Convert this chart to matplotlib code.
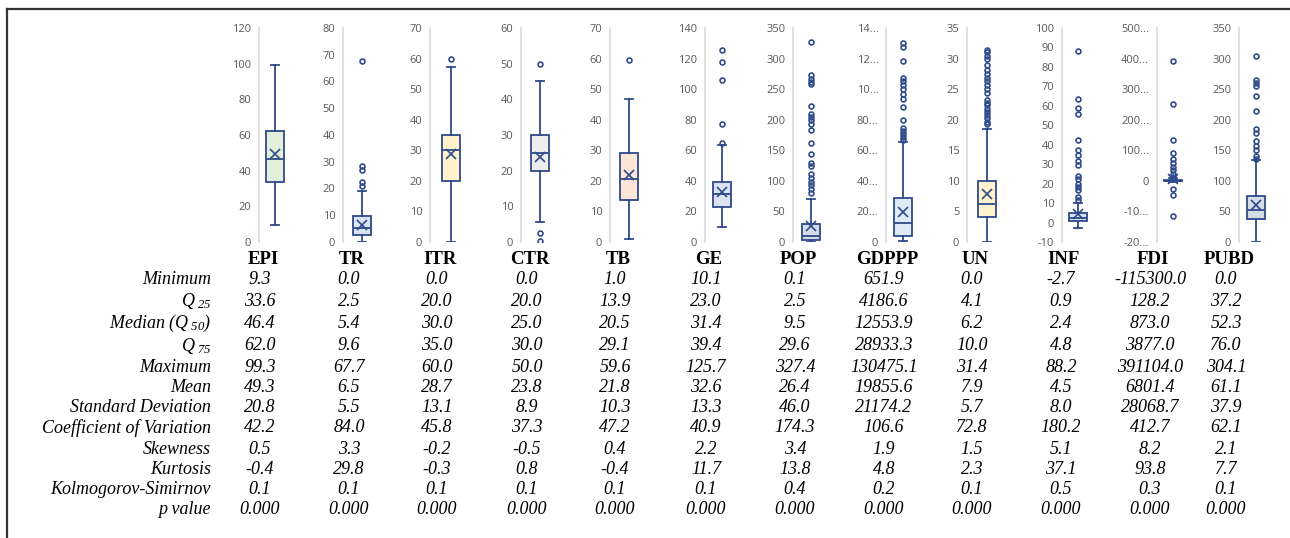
import matplotlib
matplotlib.use('Agg')
import matplotlib.pyplot as plt
from matplotlib.lines import Line2D

# Data
names = ['EPI', 'TR', 'ITR', 'CTR', 'TB', 'GE', 'POP', 'GDPPP', 'UN', 'INF', 'FDI', 'PUBD']

minimum = [9.3, 0.0, 0.0, 0.0, 1.0, 10.1, 0.1, 651.9, 0.0, -2.7, -115300.0, 0.0]
q25 = [33.6, 2.5, 20.0, 20.0, 13.9, 23.0, 2.5, 4186.6, 4.1, 0.9, 128.2, 37.2]
median = [46.4, 5.4, 30.0, 25.0, 20.5, 31.4, 9.5, 12553.9, 6.2, 2.4, 873.0, 52.3]
q75 = [62.0, 9.6, 35.0, 30.0, 29.1, 39.4, 29.6, 28933.3, 10.0, 4.8, 3877.0, 76.0]
maximum = [99.3, 67.7, 60.0, 50.0, 59.6, 125.7, 327.4, 130475.1, 31.4, 88.2, 391104.0, 304.1]
mean = [49.3, 6.5, 28.7, 23.8, 21.8, 32.6, 26.4, 19855.6, 7.9, 4.5, 6801.4, 61.1]
std_dev = [20.8, 5.5, 13.1, 8.9, 10.3, 13.3, 46.0, 21174.2, 5.7, 8.0, 28068.7, 37.9]
coef_var = [42.2, 84.0, 45.8, 37.3, 47.2, 40.9, 174.3, 106.6, 72.8, 180.2, 412.7, 62.1]
skewness = [0.5, 3.3, -0.2, -0.5, 0.4, 2.2, 3.4, 1.9, 1.5, 5.1, 8.2, 2.1]
kurtosis = [-0.4, 29.8, -0.3, 0.8, -0.4, 11.7, 13.8, 4.8, 2.3, 37.1, 93.8, 7.7]
ks_stat = [0.1, 0.1, 0.1, 0.1, 0.1, 0.1, 0.4, 0.2, 0.1, 0.5, 0.3, 0.1]
p_value = [0.000] * 12

# whisker ends as drawn in the box plots
whisker_low = [9.3, 0.0, 0.0, 5.6, 1.0, 10.1, 0.1, 651.9, 0.0, -2.7, -4000, 0.0]
whisker_high = [99.3, 19.1, 57.2, 45.0, 46.7, 63.5, 70.5, 65500, 18.5, 10.0, 9000, 133.5]

outliers = [
    [],
    [21.0, 22.5, 26.8, 28.4, 67.7],
    [60.0],
    [0.2, 2.6, 50.0],
    [59.6],
    [64.8, 77.2, 106.2, 117.7, 125.7],
    [80.7, 87.2, 92.7, 98.1, 104.7, 110.7, 124.3, 129.8, 144.5, 162.5, 183.2,
     193.0, 199.0, 204.5, 209.9, 222.5, 257.9, 261.7, 267.2, 273.7, 327.4],
    [67000, 68700, 70900, 72800, 74800, 79600, 88300, 93800, 96800, 99870,
     102500, 105100, 107500, 118400, 127600, 130475.1],
    [19.3, 19.7, 20.2, 20.7, 21.3, 21.8, 22.4, 22.8, 23.3, 24.4, 25.1, 25.7,
     26.3, 26.8, 27.4, 28.1, 28.9, 29.9, 30.5, 31.1, 31.4],
    [11.4, 13.1, 16.6, 18.3, 20.0, 22.5, 23.9, 29.7, 31.6, 34.9, 37.1, 42.3,
     56.0, 58.9, 63.7, 88.2],
    [-115300, -47300, -25500, 12700, 22500, 34500, 45400, 58400, 70400,
     92300, 134700, 252600, 391104],
    [136.3, 140.7, 149.9, 157.0, 164.7, 178.8, 185.4, 213.7, 238.3, 255.7,
     260.1, 264.4, 304.1],
]

y_ranges = [(0, 120, 20), (0, 80, 10), (0, 70, 10), (0, 60, 10), (0, 70, 10),
            (0, 140, 20), (0, 350, 50), (0, 140000, 20000), (0, 35, 5),
            (-10, 100, 10), (-200000, 500000, 100000), (0, 350, 50)]
gdppp_ticklabels = ['0', '20...', '40...', '60...', '80...', '10...', '12...', '14...']
fdi_ticklabels = ['-20...', '-10...', '0', '100...', '200...', '300...', '400...', '500...']

fills = ['#E2EFDA', '#DAE3F3', '#FFF2CC', '#EDEDED', '#FCE4D6', '#DAE3F3',
         '#D6DCE5', '#DEEBF7', '#FFF2CC', '#DAE3F3', '#DAE3F3', '#D6DCE5']

# pixel layout
W, H = 1290, 538
axis_x = [259, 343, 430, 521, 610, 705, 793, 886, 967, 1062, 1157, 1239]
box_x = [275, 362, 451, 540, 629, 722, 811, 903, 987, 1078, 1173, 1256]
col_x = [260, 349, 437, 527, 615, 706, 795, 884, 972, 1061, 1150, 1226]
ax_top, ax_bottom = 28, 242
header_y = 260
row_y = [280, 301, 323, 346, 368, 388, 408, 428, 449, 469, 489, 509]

edge = '#2F4A8A'
plt.rcParams['mathtext.fontset'] = 'custom'
plt.rcParams['mathtext.it'] = 'Liberation Serif:italic'
plt.rcParams['mathtext.rm'] = 'Liberation Serif:italic'

fig = plt.figure(figsize=(W / 100, H / 100), dpi=100)

for i, name in enumerate(names):
    half = box_x[i] - axis_x[i]
    ax = fig.add_axes([axis_x[i] / W, (H - ax_bottom) / H, 2 * half / W,
                       (ax_bottom - ax_top) / H])
    lo, hi, step = y_ranges[i]
    stats = [dict(med=median[i], q1=q25[i], q3=q75[i], whislo=whisker_low[i],
                  whishi=whisker_high[i], mean=mean[i], fliers=outliers[i])]
    ax.bxp(stats, positions=[half], widths=[18], capwidths=[8],
           patch_artist=True, showmeans=True,
           boxprops=dict(facecolor=fills[i], edgecolor=edge, linewidth=1.3),
           whiskerprops=dict(color=edge, linewidth=1.3),
           capprops=dict(color=edge, linewidth=1.3),
           medianprops=dict(color=edge, linewidth=1.3),
           meanprops=dict(marker='x', markeredgecolor=edge, markersize=7,
                          markeredgewidth=1.2),
           flierprops=dict(marker='o', markerfacecolor='none',
                           markeredgecolor=edge, markersize=3.5,
                           markeredgewidth=1.2))
    ax.set_xlim(0, 2 * half)
    ax.set_ylim(lo, hi)
    ticks = list(range(lo, hi + 1, step))
    ax.set_yticks(ticks)
    if name == 'GDPPP':
        ax.set_yticklabels(gdppp_ticklabels)
    elif name == 'FDI':
        ax.set_yticklabels(fdi_ticklabels)
    else:
        ax.set_yticklabels([str(t) for t in ticks])
    ax.set_xticks([])
    for s in ['top', 'right', 'bottom']:
        ax.spines[s].set_visible(False)
    ax.spines['left'].set_color('#D9D9D9')
    ax.spines['left'].set_linewidth(1.2)
    ax.tick_params(axis='y', length=0, pad=5.5, labelsize=8, labelcolor='#595959')
    for lab in ax.get_yticklabels():
        lab.set_fontfamily('Open Sans')
    ax.patch.set_alpha(0)

    fig.text((col_x[i] + 3) / W, 1 - header_y / H, name, ha='center', va='center',
             fontsize=13.5, fontweight='bold', family='Liberation Serif')

row_labels = ['Minimum', r'$Q_{\ 25}$', r'Median ($Q_{\ 50}$)', r'$Q_{\ 75}$', 'Maximum', 'Mean',
              'Standard Deviation', 'Coefficient of Variation', 'Skewness',
              'Kurtosis', 'Kolmogorov-Simirnov', 'p value']
rows = [minimum, q25, median, q75, maximum, mean, std_dev, coef_var,
        skewness, kurtosis, ks_stat, p_value]

for r, (label, vals) in enumerate(zip(row_labels, rows)):
    y = 1 - row_y[r] / H
    fig.text(211 / W, y, label, ha='right', va='center', fontsize=13,
             style='italic', family='Liberation Serif')
    for i, v in enumerate(vals):
        txt = f'{v:.3f}' if label == 'p value' else f'{v:.1f}'
        fig.text(col_x[i] / W, y, txt, ha='center', va='center', fontsize=13,
                 style='italic', family='Liberation Serif')

# frame lines at top and left
fig.add_artist(Line2D([7 / W, 7 / W], [0, 1 - 9 / H], color='#333333', lw=1.6,
                      transform=fig.transFigure))
fig.add_artist(Line2D([7 / W, 1], [1 - 9 / H, 1 - 9 / H], color='#333333', lw=1.6,
                      transform=fig.transFigure))

fig.savefig('out.png', dpi=100)
